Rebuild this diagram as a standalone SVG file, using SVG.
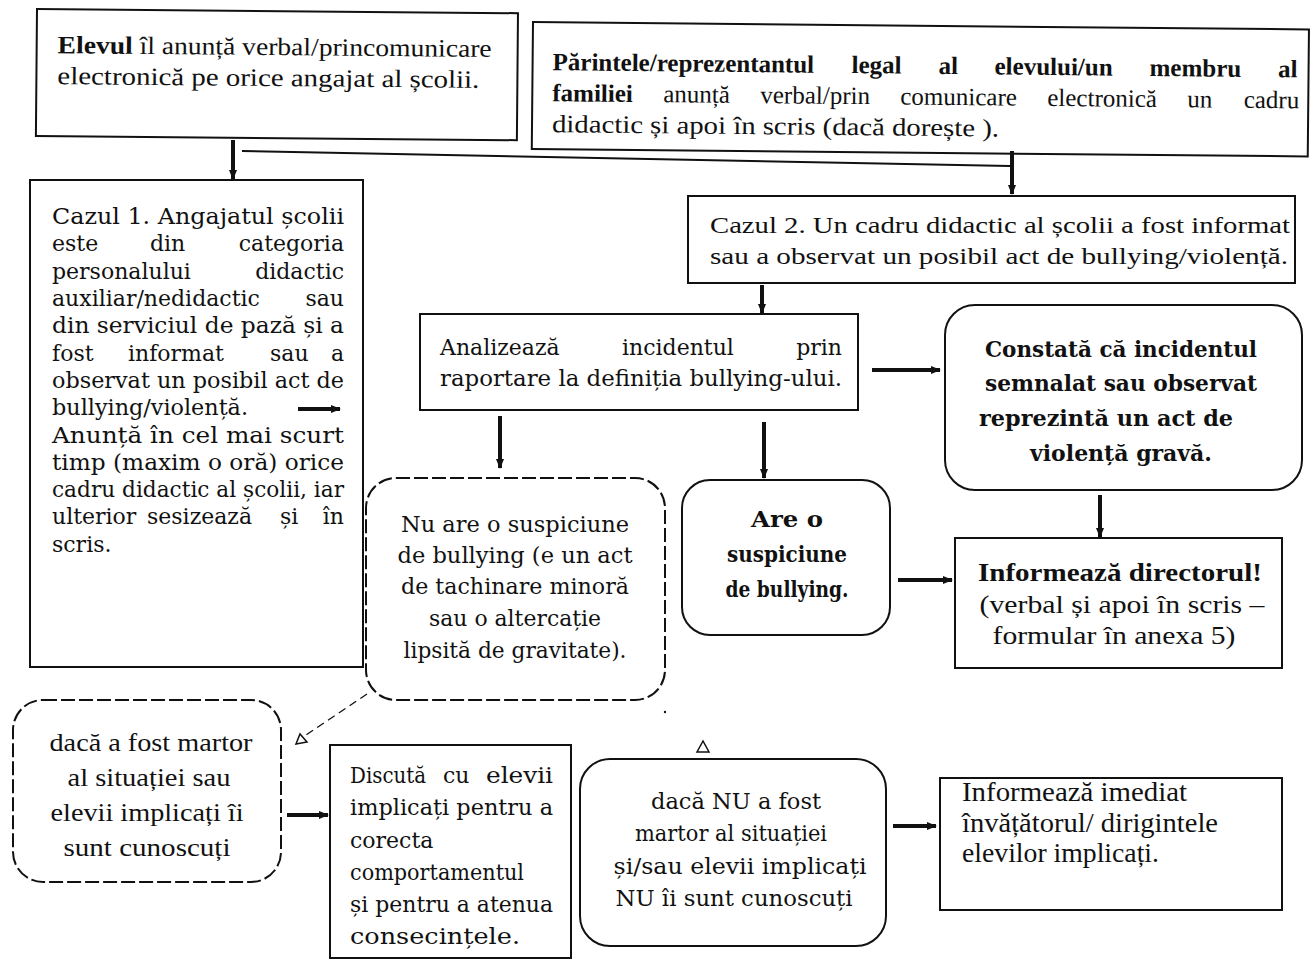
<svg xmlns="http://www.w3.org/2000/svg" width="1310" height="961" viewBox="0 0 1310 961">
<defs>
<style>
.s{font-family:"Liberation Serif","Times New Roman",serif;font-size:23px;fill:#111}
.s25{font-family:"Liberation Serif","Times New Roman",serif;font-size:25px;fill:#111}
.s27{font-family:"Liberation Serif","Times New Roman",serif;font-size:27px;fill:#111}
.d{font-family:"DejaVu Serif","Liberation Serif",serif;font-size:22px;fill:#111}
.b{font-weight:bold}
.box{fill:#fff;stroke:#111;stroke-width:2}
.dsh{stroke-dasharray:14 4}
.ar{stroke:#111;stroke-width:4;fill:none}
.thin{stroke:#111;stroke-width:2;fill:none}
.dl{stroke:#111;stroke-width:1.3;fill:none;stroke-dasharray:8 5}
</style>
<marker id="ah" viewBox="0 0 10 10" refX="9" refY="5" markerWidth="10" markerHeight="10" markerUnits="userSpaceOnUse" orient="auto"><path d="M0,1 L10,5 L0,9 z" fill="#111"/></marker>
</defs>
<rect width="1310" height="961" fill="#fff"/>

<g id="n-elevul" transform="rotate(0.5 37 9)">
<rect class="box" x="37" y="9" width="481" height="127"/>
<text class="s25" x="58" y="53" textLength="434" lengthAdjust="spacingAndGlyphs"><tspan class="b">Elevul</tspan> îl anunță verbal/princomunicare</text>
<text class="s25" x="58" y="84" textLength="422" lengthAdjust="spacingAndGlyphs">electronică pe orice angajat al școlii.</text>
</g>

<g id="n-parintele" transform="rotate(0.55 533 22)">
<rect class="box" x="533" y="22" width="776" height="127"/>
<text class="s25 b" y="70"><tspan x="553">Părintele/reprezentantul</tspan><tspan x="852">legal</tspan><tspan x="939">al</tspan><tspan x="995">elevului/un</tspan><tspan x="1150">membru</tspan></text>
<text class="s25 b" x="1298" y="70" text-anchor="end">al</text>
<text class="s25" y="101"><tspan class="b" x="553">familiei</tspan><tspan x="664">anunță</tspan><tspan x="761">verbal/prin</tspan><tspan x="901">comunicare</tspan><tspan x="1048">electronică</tspan><tspan x="1188">un</tspan></text>
<text class="s25" x="1300" y="101" text-anchor="end">cadru</text>
<text class="s25" x="553" y="132" textLength="447" lengthAdjust="spacingAndGlyphs">didactic și apoi în scris (dacă dorește ).</text>
</g>

<g id="n-cazul1">
<rect class="box" x="30" y="180" width="333" height="487"/>
<text class="d" x="52" y="224" textLength="292" lengthAdjust="spacingAndGlyphs">Cazul 1. Angajatul școlii</text>
<text class="d" y="251"><tspan x="52">este</tspan><tspan x="150">din</tspan></text>
<text class="d" x="344" y="251" text-anchor="end">categoria</text>
<text class="d" x="52" y="279">personalului</text>
<text class="d" x="344" y="279" text-anchor="end">didactic</text>
<text class="d" x="52" y="306">auxiliar/nedidactic</text>
<text class="d" x="344" y="306" text-anchor="end">sau</text>
<text class="d" x="52" y="333" textLength="292" lengthAdjust="spacingAndGlyphs">din serviciul de pază și a</text>
<text class="d" y="361"><tspan x="52">fost</tspan><tspan x="128">informat</tspan><tspan x="270">sau</tspan></text>
<text class="d" x="344" y="361" text-anchor="end">a</text>
<text class="d" x="52" y="388" textLength="292" lengthAdjust="spacingAndGlyphs">observat un posibil act de</text>
<text class="d" x="52" y="415" textLength="196" lengthAdjust="spacingAndGlyphs">bullying/violență.</text>
<line class="ar" x1="298" y1="409" x2="340" y2="409" marker-end="url(#ah)"/>
<text class="d" x="52" y="443" textLength="292" lengthAdjust="spacingAndGlyphs">Anunță în cel mai scurt</text>
<text class="d" x="52" y="470" textLength="292" lengthAdjust="spacingAndGlyphs">timp (maxim o oră) orice</text>
<text class="d" x="52" y="497" textLength="292" lengthAdjust="spacingAndGlyphs">cadru didactic al școlii, iar</text>
<text class="d" y="524"><tspan x="52">ulterior</tspan><tspan x="147">sesizează</tspan><tspan x="280">și</tspan></text>
<text class="d" x="344" y="524" text-anchor="end">în</text>
<text class="d" x="52" y="552">scris.</text>
</g>

<g id="n-cazul2">
<rect class="box" x="688" y="196" width="607" height="87"/>
<text class="s" x="710" y="233" textLength="580" lengthAdjust="spacingAndGlyphs">Cazul 2. Un cadru didactic al școlii a fost informat</text>
<text class="s" x="710" y="264" textLength="578" lengthAdjust="spacingAndGlyphs">sau a observat un posibil act de bullying/violență.</text>
</g>

<g id="n-analizeaza">
<rect class="box" x="420" y="314" width="438" height="96"/>
<text class="d" y="355"><tspan x="440">Analizează</tspan><tspan x="622">incidentul</tspan></text>
<text class="d" x="842" y="355" text-anchor="end">prin</text>
<text class="d" x="440" y="386" textLength="402" lengthAdjust="spacingAndGlyphs">raportare la definiția bullying-ului.</text>
</g>

<g id="n-constata">
<rect class="box" x="945" y="305" width="357" height="185" rx="30"/>
<text class="d b" x="1121" y="357" text-anchor="middle" textLength="272" lengthAdjust="spacingAndGlyphs">Constată că incidentul</text>
<text class="d b" x="1121" y="391" text-anchor="middle" textLength="272" lengthAdjust="spacingAndGlyphs">semnalat sau observat</text>
<text class="d b" x="1106" y="426" text-anchor="middle" textLength="254" lengthAdjust="spacingAndGlyphs">reprezintă un act de</text>
<text class="d b" x="1121" y="461" text-anchor="middle" textLength="182" lengthAdjust="spacingAndGlyphs">violență gravă.</text>
</g>

<g id="n-director">
<rect class="box" x="955" y="538" width="327" height="130"/>
<text class="s25 b" x="1120" y="581" text-anchor="middle" textLength="284" lengthAdjust="spacingAndGlyphs">Informează directorul!</text>
<text class="s25" x="1122" y="613" text-anchor="middle" textLength="285" lengthAdjust="spacingAndGlyphs">(verbal și apoi în scris –</text>
<text class="s25" x="1114" y="644" text-anchor="middle" textLength="243" lengthAdjust="spacingAndGlyphs">formular în anexa 5)</text>
</g>

<g id="n-nuare">
<rect class="box dsh" x="366" y="478" width="299" height="222" rx="30"/>
<text class="d" x="515" y="532" text-anchor="middle" textLength="228" lengthAdjust="spacingAndGlyphs">Nu are o suspiciune</text>
<text class="d" x="515" y="563" text-anchor="middle" textLength="235" lengthAdjust="spacingAndGlyphs">de bullying (e un act</text>
<text class="d" x="515" y="594" text-anchor="middle" textLength="228" lengthAdjust="spacingAndGlyphs">de tachinare minoră</text>
<text class="d" x="515" y="626" text-anchor="middle" textLength="172" lengthAdjust="spacingAndGlyphs">sau o altercație</text>
<text class="d" x="515" y="658" text-anchor="middle" textLength="223" lengthAdjust="spacingAndGlyphs">lipsită de gravitate).</text>
</g>

<g id="n-areo">
<rect class="box" x="682" y="480" width="208" height="155" rx="28"/>
<text class="d b" x="787" y="527" text-anchor="middle" textLength="72" lengthAdjust="spacingAndGlyphs">Are o</text>
<text class="d b" x="787" y="562" text-anchor="middle" textLength="120" lengthAdjust="spacingAndGlyphs">suspiciune</text>
<text class="d b" x="787" y="597" text-anchor="middle" textLength="123" lengthAdjust="spacingAndGlyphs">de bullying.</text>
</g>

<g id="n-martor">
<rect class="box dsh" x="13" y="700" width="268" height="182" rx="30"/>
<text class="s25" x="151" y="751" text-anchor="middle" textLength="203" lengthAdjust="spacingAndGlyphs">dacă a fost martor</text>
<text class="s25" x="149" y="786" text-anchor="middle" textLength="163" lengthAdjust="spacingAndGlyphs">al situației sau</text>
<text class="s25" x="147" y="821" text-anchor="middle" textLength="193" lengthAdjust="spacingAndGlyphs">elevii implicați îi</text>
<text class="s25" x="147" y="856" text-anchor="middle" textLength="167" lengthAdjust="spacingAndGlyphs">sunt cunoscuți</text>
</g>

<g id="n-discuta">
<rect class="box" x="330" y="745" width="241" height="213"/>
<text class="d" x="350" y="783" textLength="76" lengthAdjust="spacingAndGlyphs">Discută</text>
<text class="d" x="443" y="783">cu</text>
<text class="d" x="553" y="783" text-anchor="end" textLength="67" lengthAdjust="spacingAndGlyphs">elevii</text>
<text class="d" x="350" y="815" textLength="203" lengthAdjust="spacingAndGlyphs">implicați pentru a</text>
<text class="d" x="350" y="848">corecta</text>
<text class="d" x="350" y="880" textLength="174" lengthAdjust="spacingAndGlyphs">comportamentul</text>
<text class="d" x="350" y="912" textLength="203" lengthAdjust="spacingAndGlyphs">și pentru a atenua</text>
<text class="d" x="350" y="944" textLength="170" lengthAdjust="spacingAndGlyphs">consecințele.</text>
</g>

<g id="n-danu">
<rect class="box" x="580" y="759" width="306" height="187" rx="30"/>
<text class="d" x="736" y="809" text-anchor="middle" textLength="170" lengthAdjust="spacingAndGlyphs">dacă NU a fost</text>
<text class="d" x="731" y="841" text-anchor="middle" textLength="192" lengthAdjust="spacingAndGlyphs">martor al situației</text>
<text class="d" x="740" y="874" text-anchor="middle" textLength="253" lengthAdjust="spacingAndGlyphs">și/sau elevii implicați</text>
<text class="d" x="734" y="906" text-anchor="middle" textLength="237" lengthAdjust="spacingAndGlyphs">NU îi sunt cunoscuți</text>
</g>

<g id="n-imediat">
<rect class="box" x="940" y="778" width="342" height="132"/>
<text class="s27" x="962" y="801" textLength="225" lengthAdjust="spacingAndGlyphs">Informează imediat</text>
<text class="s27" x="962" y="832" textLength="256" lengthAdjust="spacingAndGlyphs">învățătorul/ dirigintele</text>
<text class="s27" x="962" y="862" textLength="197" lengthAdjust="spacingAndGlyphs">elevilor implicați.</text>
</g>

<g id="connectors">
<line class="ar" x1="233" y1="140" x2="233" y2="179" marker-end="url(#ah)"/>
<line class="thin" x1="242" y1="151" x2="1010" y2="166"/>
<line class="ar" x1="1012" y1="151" x2="1012" y2="194" marker-end="url(#ah)"/>
<line class="ar" x1="762" y1="285" x2="762" y2="313" marker-end="url(#ah)"/>
<line class="ar" x1="500" y1="416" x2="500" y2="468" marker-end="url(#ah)"/>
<line class="ar" x1="764" y1="422" x2="764" y2="478" marker-end="url(#ah)"/>
<line class="ar" x1="872" y1="370" x2="940" y2="370" marker-end="url(#ah)"/>
<line class="ar" x1="1100" y1="495" x2="1100" y2="537" marker-end="url(#ah)"/>
<line class="ar" x1="898" y1="580" x2="952" y2="580" marker-end="url(#ah)"/>
<line class="ar" x1="287" y1="815" x2="328" y2="815" marker-end="url(#ah)"/>
<line class="ar" x1="893" y1="826" x2="936" y2="826" marker-end="url(#ah)"/>
<line class="dl" x1="367" y1="694" x2="303" y2="737"/>
<polygon points="296,744 300,734 307,742" fill="#fff" stroke="#111" stroke-width="1.5"/>
<circle cx="665" cy="712" r="1.2" fill="#111"/>
<polygon points="703,741 697,752 709,752" fill="#fff" stroke="#111" stroke-width="1.5"/>
</g>
</svg>
